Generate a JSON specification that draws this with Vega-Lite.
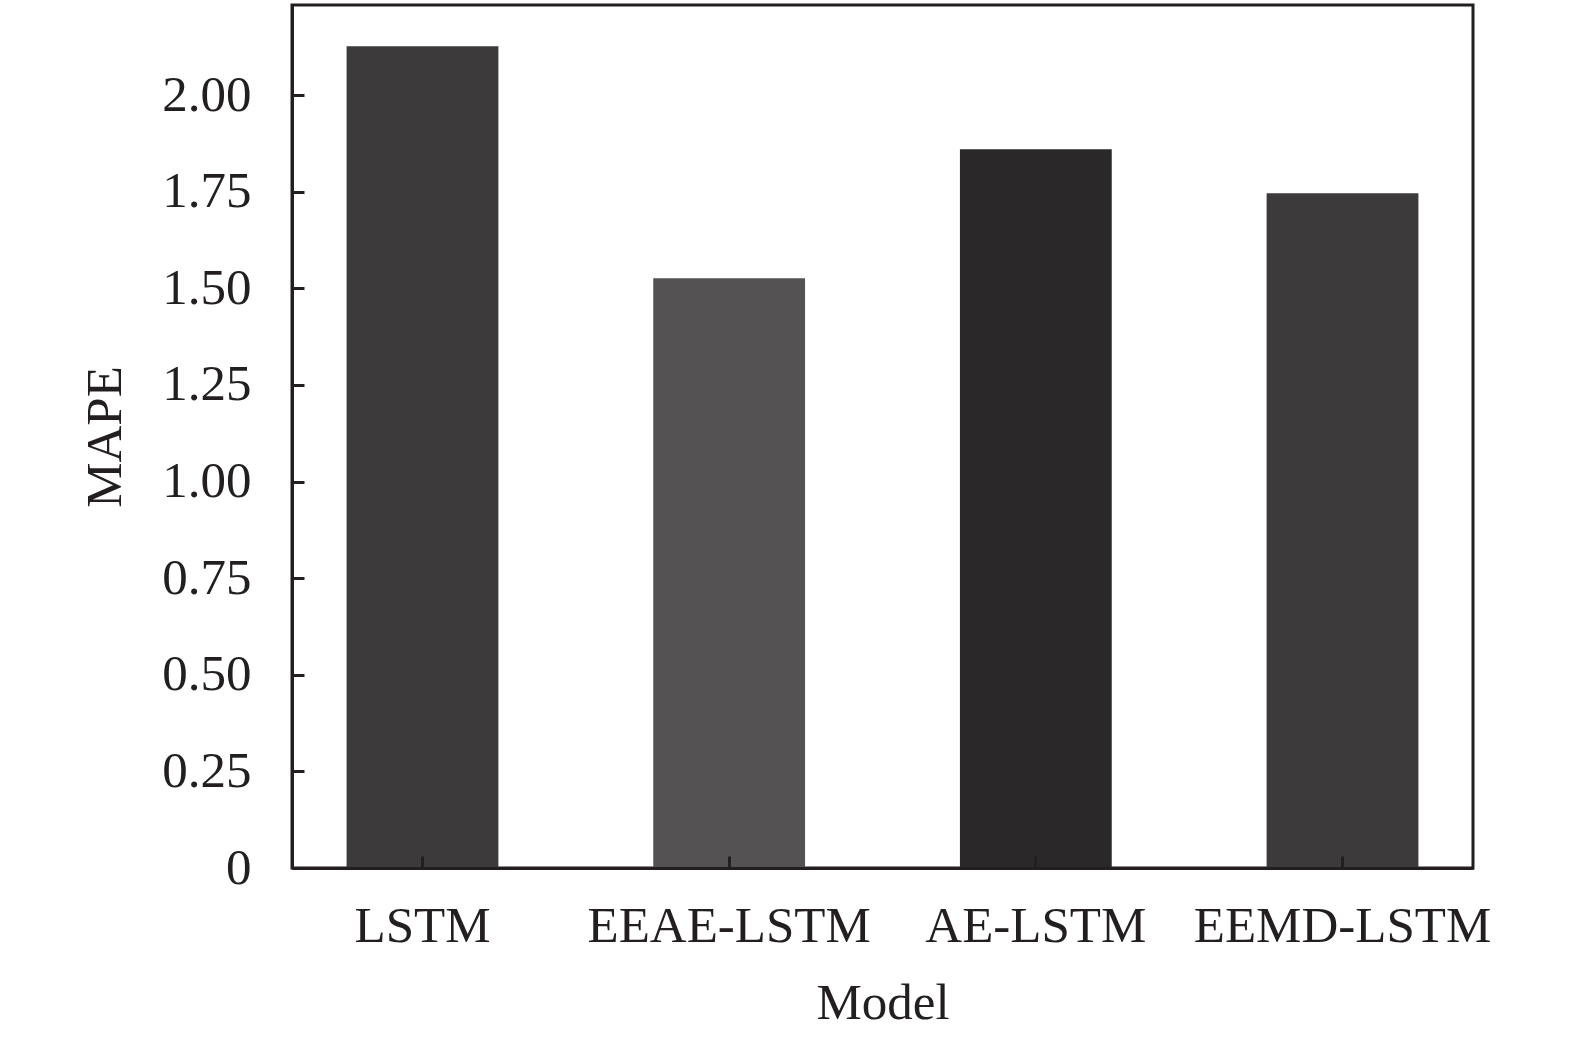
{
  "$schema": "https://vega.github.io/schema/vega-lite/v6.json",
  "autosize": "none",
  "width": 1181,
  "height": 863,
  "padding": {"left": 292, "top": 5, "right": 102, "bottom": 173},
  "background": "white",
  "data": {
    "values": [
      {"Model": "LSTM", "MAPE": 2.126},
      {"Model": "EEAE-LSTM", "MAPE": 1.526},
      {"Model": "AE-LSTM", "MAPE": 1.86},
      {"Model": "EEMD-LSTM", "MAPE": 1.746}
    ]
  },
  "config": {
    "view": {"stroke": "#231f20", "strokeWidth": 3},
    "font": "Liberation Serif",
    "axis": {
      "labelFont": "Liberation Serif",
      "titleFont": "Liberation Serif",
      "labelFontSize": 51,
      "titleFontSize": 51,
      "titleFontWeight": "normal",
      "labelColor": "#231f20",
      "titleColor": "#231f20",
      "domainColor": "#231f20",
      "domainWidth": 3,
      "tickColor": "#231f20",
      "tickWidth": 3,
      "grid": false
    }
  },
  "encoding": {
    "x": {
      "field": "Model",
      "type": "nominal",
      "sort": ["LSTM", "EEAE-LSTM", "AE-LSTM", "EEMD-LSTM"],
      "scale": {"paddingInner": 0.505, "paddingOuter": 0.178}
    },
    "y": {
      "field": "MAPE",
      "type": "quantitative",
      "scale": {"domain": [0, 2.233], "nice": false, "zero": true}
    },
    "color": {
      "field": "Model",
      "type": "nominal",
      "scale": {
        "domain": ["LSTM", "EEAE-LSTM", "AE-LSTM", "EEMD-LSTM"],
        "range": ["#3d3a3b", "#545253", "#2b2829", "#3d3a3b"]
      },
      "legend": null
    }
  },
  "layer": [
    {
      "mark": {"type": "bar"},
      "encoding": {
        "x": {
          "field": "Model",
          "type": "nominal",
          "sort": ["LSTM", "EEAE-LSTM", "AE-LSTM", "EEMD-LSTM"],
          "axis": {
            "orient": "bottom",
            "labelAngle": 0,
            "ticks": false,
            "labelLimit": 0,
            "labelPadding": 33,
            "titlePadding": 27,
            "title": "Model",
            "zindex": 1
          }
        },
        "y": {
          "field": "MAPE",
          "type": "quantitative",
          "axis": {
            "orient": "left",
            "values": [0, 0.25, 0.5, 0.75, 1.0, 1.25, 1.5, 1.75, 2.0],
            "labelExpr": "datum.value == 0 ? '0' : format(datum.value, '.2f')",
            "ticks": false,
            "labelPadding": 41,
            "titlePadding": 30,
            "title": "MAPE",
            "zindex": 1
          }
        }
      }
    },
    {
      "mark": {"type": "bar", "opacity": 0},
      "encoding": {
        "x": {
          "field": "Model",
          "type": "nominal",
          "sort": ["LSTM", "EEAE-LSTM", "AE-LSTM", "EEMD-LSTM"],
          "axis": {
            "orient": "top",
            "offset": -863,
            "labels": false,
            "domain": false,
            "ticks": true,
            "tickSize": 12,
            "title": null,
            "zindex": 2
          }
        },
        "y": {
          "field": "MAPE",
          "type": "quantitative",
          "axis": {
            "orient": "right",
            "offset": -1181,
            "values": [0, 0.25, 0.5, 0.75, 1.0, 1.25, 1.5, 1.75, 2.0],
            "labels": false,
            "domain": false,
            "ticks": true,
            "tickSize": 12,
            "title": null,
            "zindex": 2
          }
        }
      }
    }
  ]
}
